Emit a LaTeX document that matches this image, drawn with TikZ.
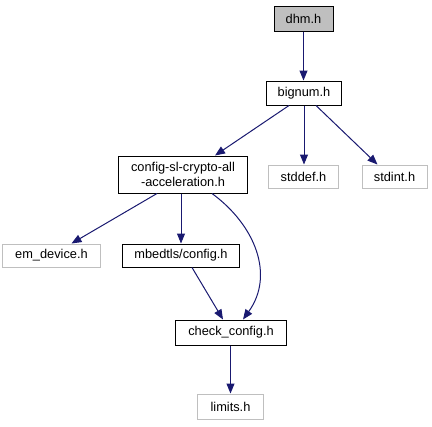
\documentclass[tikz,border=0pt]{standalone}
\usepackage{fontspec}
\setmainfont{Liberation Sans}
\usetikzlibrary{arrows.meta}
\definecolor{edgeblue}{HTML}{191970}
\definecolor{graybd}{HTML}{BFBFBF}
\tikzset{
  hbox/.style={draw=black, line width=1bp, fill=white, inner sep=0pt, align=center,
    font=\fontsize{12.8bp}{15bp}\selectfont},
  graybox/.style={hbox, draw=graybd},
  mainbox/.style={hbox, fill=graybd},
  dep/.style={draw=edgeblue, line width=1bp, -{Triangle[length=10bp,width=8bp]}},
}
\begin{document}
\begin{tikzpicture}[x=1bp,y=-1bp]
\useasboundingbox (0,0) rectangle (432,427);
\node[mainbox, minimum width=59bp, minimum height=25bp] (dhm) at (303.5,18.5) {dhm.h};
\node[hbox, minimum width=74bp, minimum height=24bp] (bignum) at (304,93) {bignum.h};
\node[hbox, minimum width=128bp, minimum height=37bp] (config) at (183,174.5) {config-sl-crypto-all\\-acceleration.h};
\node[graybox, minimum width=69bp, minimum height=23bp] (stddef) at (303.5,176.5) {stddef.h};
\node[graybox, minimum width=65bp, minimum height=23bp] (stdint) at (394.5,176.5) {stdint.h};
\node[graybox, minimum width=97bp, minimum height=23bp] (emdev) at (51.5,255.5) {em\_device.h};
\node[hbox, minimum width=116bp, minimum height=23bp] (mbed) at (181,255.5) {mbedtls/config.h};
\node[hbox, minimum width=110bp, minimum height=25bp] (check) at (231,332.5) {check\_config.h};
\node[graybox, minimum width=65bp, minimum height=25bp] (limits) at (230.5,406.5) {limits.h};

\draw[dep] (dhm.south) -- (dhm.south |- bignum.north);
\draw[dep] ([xshift=-15bp]bignum.south) -- ([xshift=32bp]config.north);
\draw[dep] (bignum.south) -- (bignum.south |- stddef.north);
\draw[dep] ([xshift=12bp]bignum.south) -- ([xshift=-17bp]stdint.north);
\draw[dep] ([xshift=-26bp]config.south) -- ([xshift=20bp]emdev.north);
\draw[dep] (config.south -| mbed.north) -- (mbed.north);
\draw[dep] ([xshift=29bp]config.south) .. controls (255,225) and (275,275) .. ([xshift=12bp]check.north);
\draw[dep] ([xshift=11bp]mbed.south) -- ([xshift=-8bp]check.north);
\draw[dep] (check.south -| limits.north) -- (limits.north);
\end{tikzpicture}
\end{document}
